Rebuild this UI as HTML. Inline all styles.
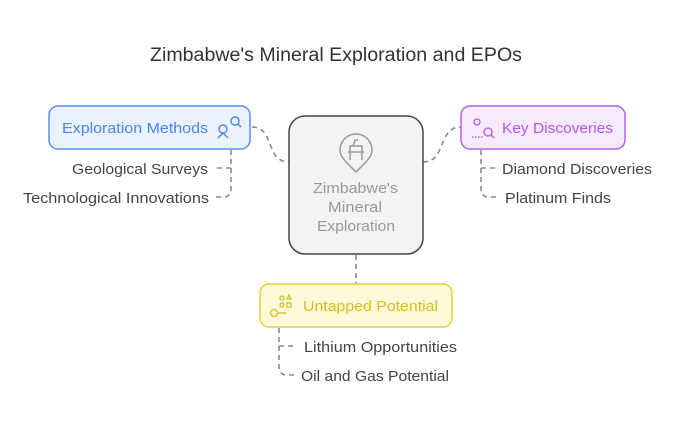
<!DOCTYPE html>
<html><head><style>
body{margin:0;background:#fff;}
svg text{font-family:"Liberation Sans",sans-serif;}
</style></head><body>
<svg width="674" height="424" viewBox="0 0 674 424" xmlns="http://www.w3.org/2000/svg">
<rect width="674" height="424" fill="#fff"/>
<text x="150" y="61" font-size="19" fill="#333" textLength="372" lengthAdjust="spacingAndGlyphs">Zimbabwe's Mineral Exploration and EPOs</text>
<g fill="none" stroke="#8a8a8a" stroke-width="1.6" stroke-dasharray="5,4">
<path d="M252 127 C275 127 265 162 289 162"/>
<path d="M423 162 C447 162 437 127 461 127"/>
<path d="M356 255 L356 284"/>
<path d="M231 150 L231 189 Q231 197 223 197 L216 197"/>
<path d="M231 168 L216 168"/>
<path d="M481 150 L481 189 Q481 197 489 197 L496 197"/>
<path d="M481 168 L496 168"/>
<path d="M279 328 L279 367 Q279 375 287 375 L294 375"/>
<path d="M279 346 L294 346"/>
</g>
<rect x="289" y="116" width="134" height="138" rx="16" fill="#f3f3f3" stroke="#444" stroke-width="1.5"/>
<g fill="none" stroke="#999" stroke-width="1.5">
<path d="M356 172 C346 162 340 157 340 150 A16 16 0 0 1 372 150 C372 157 366 162 356 172 Z"/>
<path d="M350 160 L350 146 L362 146 L362 160 M348 152 L364 152 M353 146 L355 140 L358 140"/>
</g>
<text x="313" y="193" font-size="15" fill="#999" textLength="85" lengthAdjust="spacingAndGlyphs">Zimbabwe's</text>
<text x="328" y="212" font-size="15" fill="#999" textLength="54" lengthAdjust="spacingAndGlyphs">Mineral</text>
<text x="317" y="231" font-size="15" fill="#999" textLength="78" lengthAdjust="spacingAndGlyphs">Exploration</text>
<rect x="49" y="106" width="201" height="43" rx="9" fill="#eaf2fe" stroke="#5b8ff0" stroke-width="1.5"/>
<text x="62" y="133" font-size="15" fill="#4a84e8" textLength="146" lengthAdjust="spacingAndGlyphs">Exploration Methods</text>
<g fill="none" stroke="#4a84e8" stroke-width="1.4">
<circle cx="223" cy="129" r="4"/><path d="M218 138 L223 133 L228 138"/>
<circle cx="235" cy="121" r="4"/><path d="M238 124 L241 127"/>
</g>
<rect x="461" y="106" width="164" height="43" rx="9" fill="#f8eafd" stroke="#b85ee8" stroke-width="1.5"/>
<text x="502" y="133" font-size="15" fill="#b257e0" textLength="111" lengthAdjust="spacingAndGlyphs">Key Discoveries</text>
<g fill="none" stroke="#b257e0" stroke-width="1.3">
<circle cx="477" cy="122" r="3"/><circle cx="488" cy="132" r="4"/><path d="M491 135 L494 138"/>
<path d="M472 137 L483 137" stroke-dasharray="1.5,1.5"/>
</g>
<rect x="260" y="284" width="192" height="43" rx="9" fill="#fef9d9" stroke="#e3cf3a" stroke-width="1.5"/>
<text x="303" y="311" font-size="15" fill="#d9be1c" textLength="135" lengthAdjust="spacingAndGlyphs">Untapped Potential</text>
<g fill="none" stroke="#d9be1c" stroke-width="1.3">
<circle cx="274" cy="313" r="3.5"/><path d="M277 313 L286 313"/>
<circle cx="282" cy="298" r="2"/><circle cx="282" cy="305" r="2"/><rect x="287" y="303" width="4" height="4"/><path d="M287 299 L289 295 L291 299 Z"/>
</g>
<g font-size="15" fill="#444">
<text x="72" y="174" textLength="136" lengthAdjust="spacingAndGlyphs">Geological Surveys</text>
<text x="23" y="203" textLength="186" lengthAdjust="spacingAndGlyphs">Technological Innovations</text>
<text x="502" y="174" textLength="150" lengthAdjust="spacingAndGlyphs">Diamond Discoveries</text>
<text x="505" y="203" textLength="106" lengthAdjust="spacingAndGlyphs">Platinum Finds</text>
<text x="304" y="352" textLength="153" lengthAdjust="spacingAndGlyphs">Lithium Opportunities</text>
<text x="301" y="381" textLength="148" lengthAdjust="spacingAndGlyphs">Oil and Gas Potential</text>
</g>
</svg>
</body></html>
